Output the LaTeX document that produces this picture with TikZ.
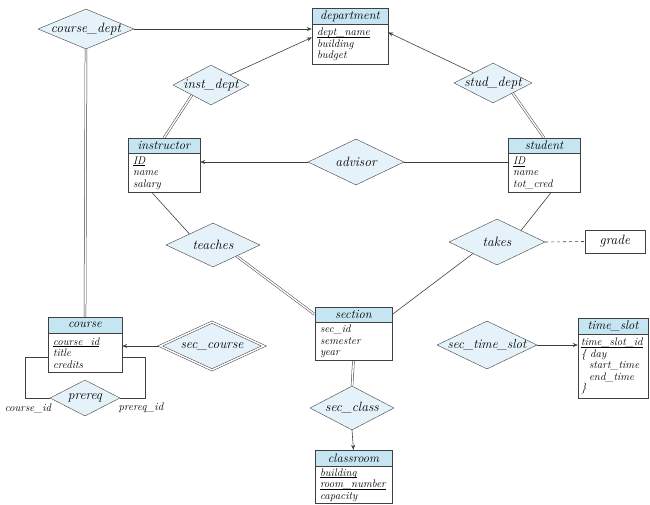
\documentclass[tikz,border=0pt]{standalone}
\usetikzlibrary{shapes.geometric,arrows.meta,calc,backgrounds}
\definecolor{hdr}{HTML}{C4E5F1}
\definecolor{dia}{HTML}{E6F2F9}
\definecolor{ln}{HTML}{404040}
\newcommand{\ulx}[1]{\underline{\raisebox{0pt}[\height][0pt]{#1}}}
\tikzset{
  ehead/.style={draw=ln, fill=hdr, minimum height=16pt, inner sep=0pt, font=\fontsize{12.5}{13}\selectfont\itshape},
  ebody/.style={draw=ln, fill=white, anchor=north, inner xsep=5pt, inner ysep=0pt, align=left, font=\fontsize{11}{11.5}\selectfont\itshape},
  rel/.style={diamond, draw=ln, fill=dia, inner sep=0pt},
  rtext/.style={font=\fontsize{13.5}{14}\selectfont\itshape, inner sep=0pt},
  conn/.style={draw=ln, line width=0.6pt},
  arr/.style={conn, -{Stealth[length=5pt,width=4pt]}},
  dbl/.style={draw=ln, line width=0.5pt, double=white, double distance=1.4pt},
  lbl/.style={font=\fontsize{11}{12}\selectfont\itshape, inner sep=1pt}
}
\begin{document}
\begin{tikzpicture}[x=1pt,y=-1pt]
\useasboundingbox (0,0) rectangle (650,504);
% entities
\node[ehead, minimum width=76pt] (dept) at (350,16) {department};
\node[ebody, minimum width=76pt, text width=66pt, minimum height=40pt] (deptb) at (dept.south) {\ulx{dept\_name}\\building\\budget};
\node[ehead, minimum width=72pt, minimum height=15pt] (inst) at (164,145.5) {instructor};
\node[ebody, minimum width=72pt, text width=62pt, minimum height=39pt] (instb) at (inst.south) {\ulx{ID}\\name\\salary};
\node[ehead, minimum width=72pt, minimum height=15pt] (stud) at (544,145.5) {student};
\node[ebody, minimum width=72pt, text width=62pt, minimum height=39pt] (studb) at (stud.south) {\ulx{ID}\\name\\tot\_cred};
\node[ehead, minimum width=77pt, minimum height=15pt] (sec) at (353.5,314.5) {section};
\node[ebody, minimum width=77pt, text width=67pt, minimum height=38pt] (secb) at (sec.south) {sec\_id\\semester\\year};
\node[ehead, minimum width=74pt] (course) at (85,325) {course};
\node[ebody, minimum width=74pt, text width=64pt, minimum height=39pt] (courseb) at (course.south) {\ulx{course\_id}\\title\\credits};
\node[ehead, minimum width=70pt] (ts) at (613,326) {time\_slot};
\node[ebody, minimum width=70pt, text width=64pt, minimum height=64pt, inner xsep=3pt] (tsb) at (ts.south) {\ulx{time\_slot\_id}\\\{\ day\\\hspace*{8pt}start\_time\\\hspace*{8pt}end\_time\\\}};
\node[ehead, minimum width=77pt] (cls) at (353.5,458) {classroom};
\node[ebody, minimum width=77pt, text width=67pt, minimum height=37pt] (clsb) at (cls.south) {\ulx{building}\\\ulx{room\_number}\\capacity};
\node[draw=ln, fill=white, minimum width=60pt, minimum height=23pt, inner sep=0pt, font=\fontsize{13.5}{14}\selectfont\itshape] (grade) at (615,241.5) {grade};
% relationships
\node[rel, minimum width=96pt, minimum height=40pt, label={[rtext]center:course\_dept}] (cd) at (86,29) {};
\node[rel, minimum width=76pt, minimum height=40pt, label={[rtext]center:inst\_dept}] (id) at (211,85) {};
\node[rel, minimum width=78pt, minimum height=40pt, label={[rtext]center:stud\_dept}] (sd) at (493,83) {};
\node[rel, minimum width=96pt, minimum height=46pt, label={[rtext]center:advisor}] (adv) at (356,162) {};
\node[rel, minimum width=94pt, minimum height=44pt, label={[rtext]center:teaches}] (tea) at (213,245) {};
\node[rel, minimum width=96pt, minimum height=46pt, label={[rtext]center:takes}] (tak) at (497,242) {};
\node[rel, double, double distance=1.5pt, line width=0.5pt, minimum width=104pt, minimum height=48pt, label={[rtext]center:sec\_course}] (sc) at (212,346) {};
\node[rel, minimum width=100pt, minimum height=48pt, label={[rtext, font=\fontsize{13}{14}\selectfont\itshape]center:sec\_time\_slot}] (sts) at (487,345) {};
\node[rel, minimum width=84pt, minimum height=44pt, label={[rtext]center:sec\_class}] (scl) at (352,408) {};
\node[rel, minimum width=70pt, minimum height=36pt, label={[rtext]center:prereq}] (pr) at (85,398) {};
% connectors
\begin{pgfonlayer}{background}
\draw[arr] (cd.east) -- (cd.east -| deptb.west);
\draw[dbl] (cd.south) -- (course.north);
\draw[arr] ($(id.north)!0.5!(id.east)$) -- ([yshift=7pt]deptb.west);
\draw[dbl] (inst.north) -- ($(id.south)!0.5!(id.west)$);
\draw[arr] ($(sd.north)!0.5!(sd.west)$) -- ([yshift=12pt]deptb.east);
\draw[dbl] ($(sd.south)!0.5!(sd.east)$) -- (stud.north);
\draw[arr] (adv.west) -- (adv.west -| instb.east);
\draw[conn] (adv.east) -- (adv.east -| studb.west);
\draw[conn] ([xshift=-12pt]instb.south) -- ($(tea.north)!0.5!(tea.west)$);
\draw[dbl] ($(tea.south)!0.5!(tea.east)$) -- (sec.west);
\draw[conn] ([xshift=7pt]studb.south) -- ($(tak.north)!0.5!(tak.east)$);
\draw[conn] ($(tak.south)!0.5!(tak.west)$) -- (sec.east);
\draw[conn, dashed] (tak.east) -- (grade.west);
\draw[dbl] (sc.east -| secb.west) -- (sc.east);
\draw[arr] (sc.west) -- (sc.west -| courseb.east);
\draw[dbl] (sts.west -| secb.east) -- (sts.west);
\draw[arr] (sts.east) -- (sts.east -| tsb.west);
\draw[dbl] (secb.south) -- (scl.north);
\draw[arr] (scl.south) -- (cls.north);
\draw[conn] ([yshift=-4pt]courseb.west) -- ++(-23,0) coordinate (pl) |- (pr.west);
\draw[conn] ([yshift=-4pt]courseb.east) -- ++(23,0) coordinate (prr) |- (pr.east);
\end{pgfonlayer}
\node[lbl] (l1) at (28,408) {course\_id};
\node[lbl] (l2) at (141,408) {prereq\_id};
\end{tikzpicture}
\end{document}
